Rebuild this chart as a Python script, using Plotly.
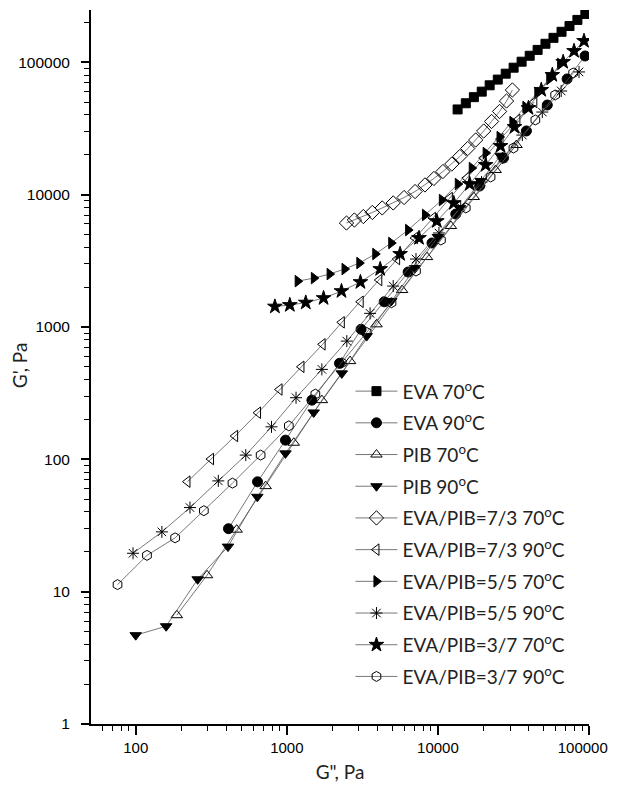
import plotly.graph_objects as go

# ---- data (G'' , G') ----
eva70_x = [13500, 15300, 17300, 19500, 22000, 24900, 28100, 31700, 35800, 40500, 45700, 51500, 58200, 65800, 74300, 83800, 94600]
eva70_y = [44000, 49000, 54500, 60000, 67000, 74000, 82000, 91000, 101000, 112000, 124000, 138000, 153000, 170000, 188000, 209000, 232000]

eva90_x = [411, 640, 980, 1466, 2232, 3100, 4410, 6350, 9140, 13130, 18880, 27160, 38530, 52960, 71650, 94190]
eva90_y = [29.9, 67.6, 139.6, 280, 531, 960, 1550, 2600, 4310, 7130, 11610, 18920, 30270, 47530, 74800, 111600]

pib70_x = [187, 296.5, 465.6, 724.4, 1112, 1706, 2624, 3926, 5794, 8470, 12190, 17260, 24100, 33110]
pib70_y = [6.64, 13.3, 29.4, 62.7, 133.4, 280, 552, 1047, 1901, 3373, 5794, 9590, 15350, 23710]

pib90_x = [100, 159, 257, 408, 638, 980, 1506, 2312, 3377, 4910, 7060, 10000, 13960, 19190, 25960]
pib90_y = [4.69, 5.48, 12.4, 21.9, 52.1, 110.9, 226, 446, 853, 1570, 2786, 4786, 7930, 12680, 19680]

b73_70_x = [2483, 2800, 3210, 3680, 4280, 5060, 5970, 7060, 8210, 9410, 10790, 12360, 13960, 15750, 17780, 20090, 22650, 25590, 28450, 31120]
b73_70_y = [6100, 6430, 6830, 7330, 7930, 8650, 9510, 10550, 11830, 13240, 14950, 17030, 19410, 22300, 25860, 30250, 35710, 42490, 50970, 61770]

b73_90_x = [220, 315, 455, 645, 895, 1250, 1726, 2312, 3083, 4094, 5370, 7060, 9270, 11990, 15520, 20090, 25960, 33580, 43450]
b73_90_y = [67.8, 100.5, 150, 225, 337, 500, 739, 1084, 1550, 2263, 3260, 4700, 6650, 9420, 13340, 18920, 26300, 36640, 50120]

b55_70_x = [1180, 1510, 1920, 2410, 3020, 3850, 4910, 6350, 8210, 10620, 13540, 16750, 20700, 25590, 31120, 37930, 45500, 54580, 64420]
b55_70_y = [2220, 2340, 2510, 2740, 3040, 3560, 4310, 5400, 7020, 9100, 12020, 15880, 20610, 27230, 35370, 45920, 58610, 74800, 97100]

b55_90_x = [96, 149, 228.6, 352, 535, 792, 1151, 1706, 2495, 3557, 5060, 7160, 10160, 14160, 19450, 26790, 36220, 49090, 65460, 85910]
b55_90_y = [19.5, 28.3, 43.2, 68.7, 107.6, 176, 292, 478, 782, 1267, 2037, 3260, 5130, 8060, 12440, 18920, 28180, 42070, 60670, 84530]

b37_70_x = [834, 1047, 1335, 1751, 2300, 3070, 4150, 5620, 7500, 9840, 12740, 16240, 20700, 25960, 32120, 39720, 48310, 57150, 67450, 79620, 92680]
b37_70_y = [1426, 1465, 1528, 1652, 1866, 2183, 2740, 3560, 4700, 6310, 8630, 12020, 16750, 23300, 32430, 45080, 61770, 80170, 100500, 121700, 144900]

b37_90_x = [75.8, 118.7, 182.3, 282.5, 436.8, 671, 1031, 1545, 2312, 3377, 4930, 7160, 10470, 15290, 22320, 31620, 44150, 59710, 78520]
b37_90_y = [11.3, 18.8, 25.5, 40.9, 66.1, 107.6, 179, 311, 536, 910, 1524, 2647, 4540, 7930, 13590, 22500, 36640, 56620, 82950]

names = ["EVA 70<sup>o</sup>C", "EVA 90<sup>o</sup>C", "PIB 70<sup>o</sup>C", "PIB 90<sup>o</sup>C",
         "EVA/PIB=7/3 70<sup>o</sup>C", "EVA/PIB=7/3 90<sup>o</sup>C",
         "EVA/PIB=5/5 70<sup>o</sup>C", "EVA/PIB=5/5 90<sup>o</sup>C",
         "EVA/PIB=3/7 70<sup>o</sup>C", "EVA/PIB=3/7 90<sup>o</sup>C"]
xs = [eva70_x, eva90_x, pib70_x, pib90_x, b73_70_x, b73_90_x, b55_70_x, b55_90_x, b37_70_x, b37_90_x]
ys = [eva70_y, eva90_y, pib70_y, pib90_y, b73_70_y, b73_90_y, b55_70_y, b55_90_y, b37_70_y, b37_90_y]
symbols = ["square", "circle", "triangle-up-open", "triangle-down", "diamond-open",
           "triangle-left-open", "triangle-right", "asterisk-open", "star", "hexagon-open"]
sizes = [9, 10, 10, 10, 11, 10, 10, 10, 11, 10]

x_tickvals = [100, 1000, 10000, 100000]
x_ticktext = ["100", "1000", "10000", "100000&nbsp;&nbsp;&nbsp;"]
y_tickvals = [1, 10, 100, 1000, 10000, 100000]
y_ticktext = ["1", "10", "100", "1000", "10000", "100000"]

fig = go.Figure()
for n, x, y, s, sz in zip(names, xs, ys, symbols, sizes):
    fig.add_trace(go.Scatter(
        x=x, y=y, name=n, mode="lines+markers", legendgroup=n,
        line=dict(color="#555555", width=0.8),
        marker=dict(symbol=s, size=sz, color="black", line=dict(color="black", width=1)),
    ))

tickfont_y = dict(family="Liberation Sans, Arial", size=15.5, color="black")
tickfont_x = dict(family="Liberation Sans, Arial", size=15, color="black")
x_minor = [m * 10 ** e for e in range(1, 5) for m in range(2, 10) if m * 10 ** e >= 50]
y_minor = [m * 10 ** e for e in range(0, 6) for m in range(2, 10) if m * 10 ** e <= 240000]

# the page body has an 8px default margin: keep the figure well inside the window (no scrollbars)
fig.update_layout(
    width=614, height=775,
    margin=dict(l=83, r=30, t=2, b=59),
    plot_bgcolor="white", paper_bgcolor="white",
    showlegend=True,
    legend=dict(x=0.521, y=0.4926, xanchor="left", yanchor="top",
                font=dict(family="Lato", size=19, color="#222222"),
                bgcolor="rgba(0,0,0,0)", itemwidth=42, tracegroupgap=4,
                traceorder="grouped"),
    xaxis=dict(type="log", range=[1.704, 5.0], showline=True, linewidth=2, linecolor="black",
               ticks="outside", ticklen=9, tickwidth=1.6, tickcolor="black",
               tickvals=x_tickvals, ticktext=x_ticktext,
               tickfont=tickfont_x, ticklabeloverflow="allow", showgrid=False, zeroline=False, mirror=False,
               minor=dict(tickvals=x_minor, ticks="outside", ticklen=5, tickwidth=1.4, tickcolor="black", showgrid=False),
               title=dict(text="G\", Pa", font=dict(family="Lato", size=19, color="#222222"), standoff=12)),
    yaxis=dict(type="log", range=[0, 5.395], showline=True, linewidth=2, linecolor="black",
               ticks="outside", ticklen=8, tickwidth=1.6, tickcolor="black", ticklabelstandoff=8,
               tickvals=y_tickvals, ticktext=y_ticktext,
               tickfont=tickfont_y, showgrid=False, zeroline=False, mirror=False,
               minor=dict(tickvals=y_minor, ticks="outside", ticklen=5, tickwidth=1.4, tickcolor="black", showgrid=False)),
    annotations=[dict(text="G', Pa", textangle=-90, xref="paper", yref="paper",
                      x=-0.142, y=0.503, xanchor="center", yanchor="middle", showarrow=False,
                      font=dict(family="Lato", size=19, color="#222222"))],
)

fig.write_html("out.html", config={"displayModeBar": False})
